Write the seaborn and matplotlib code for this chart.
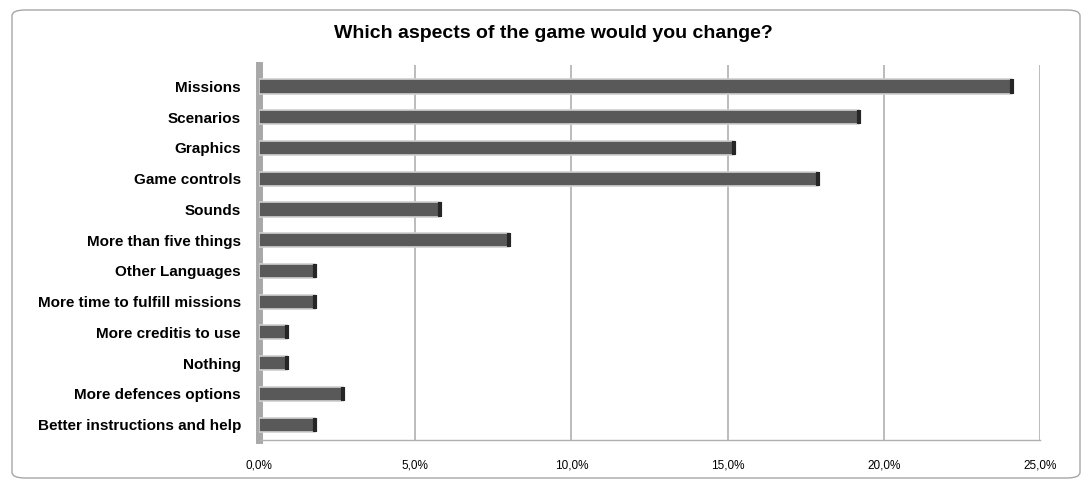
import numpy as np
import pandas as pd
import matplotlib
matplotlib.use('Agg')
import matplotlib.pyplot as plt
from matplotlib.patches import FancyBboxPatch
from matplotlib.ticker import FuncFormatter
import seaborn as sns

categories = [
    'Missions',
    'Scenarios',
    'Graphics',
    'Game controls',
    'Sounds',
    'More than five things',
    'Other Languages',
    'More time to fulfill missions',
    'More creditis to use',
    'Nothing',
    'More defences options',
    'Better instructions and help',
]
percent = [24.1, 19.2, 15.2, 17.9, 5.8, 8.0, 1.8, 1.8, 0.9, 0.9, 2.7, 1.8]
x_ticks = [0, 5, 10, 15, 20, 25]

df = pd.DataFrame({'aspect': categories, 'pct': percent})

sns.set_style('white')
plt.rcParams['font.family'] = ['Liberation Sans', 'DejaVu Sans']
plt.rcParams['text.color'] = 'black'
plt.rcParams['xtick.color'] = 'black'
plt.rcParams['ytick.color'] = 'black'

fig = plt.figure(figsize=(10.9, 4.8), dpi=100)
fig.set_facecolor('white')

# chart frame (rounded, like the spreadsheet chart box)
frame = FancyBboxPatch((12 / 1090, 2 / 480), 1068 / 1090, 468 / 480,
                       boxstyle='round,pad=0,rounding_size=0.012',
                       transform=fig.transFigure, facecolor='none',
                       edgecolor='#a6a6a6', linewidth=1.0)
fig.patches.append(frame)

ax = fig.add_axes([259 / 1090, 40 / 480, 781 / 1090, 375 / 480])
ax.set_facecolor('none')

sns.barplot(data=df, x='pct', y='aspect', orient='h', color='#595959',
            width=0.46, edgecolor='#d0d0d0', linewidth=1.2, saturation=1,
            ax=ax, zorder=3)

# darker end caps for the 3D look
for bar in ax.patches:
    w = bar.get_width()
    ax.plot([w, w], [bar.get_y(), bar.get_y() + bar.get_height()],
            color='#262626', linewidth=3, solid_capstyle='butt', zorder=4)

ax.set_xlim(0, 25)
ax.set_ylim(11.5, -0.7)
ax.set_xticks(x_ticks)
ax.xaxis.set_major_formatter(FuncFormatter(lambda v, p: f'{v:.1f}%'.replace('.', ',')))
for v in x_ticks[1:]:
    ax.axvline(v, color='#b0b0b0', linewidth=1.2, zorder=1)

for s in ['top', 'right']:
    ax.spines[s].set_visible(False)
ax.spines['left'].set_color('#a8a8a8')
ax.spines['left'].set_linewidth(5)
ax.spines['bottom'].set_color('#b0b0b0')
ax.spines['bottom'].set_linewidth(1)

ax.tick_params(axis='y', length=0, pad=13, labelsize=11)
ax.tick_params(axis='x', length=0, pad=14, labelsize=8.5)
for lbl in ax.get_yticklabels():
    lbl.set_fontweight('bold')
ax.set_xlabel('')
ax.set_ylabel('')

fig.text(553 / 1090, 1 - 33 / 480, 'Which aspects of the game would you change?',
         ha='center', va='center', fontsize=14, fontweight='bold')

fig.savefig('out.png', dpi=100)
